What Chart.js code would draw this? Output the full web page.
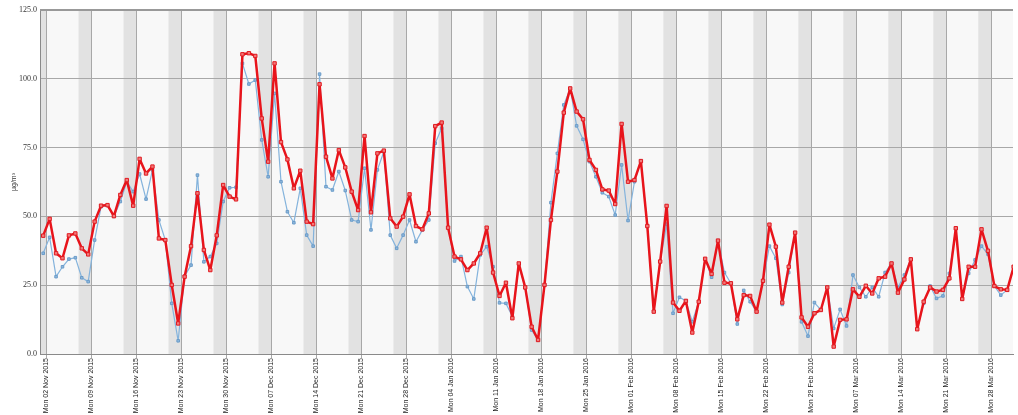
<!DOCTYPE html>
<html><head><meta charset="utf-8">
<script src="https://cdn.jsdelivr.net/npm/chart.js@4.4.0/dist/chart.umd.min.js"></script>
<style>html,body{margin:0;padding:0;background:#fff;overflow:hidden}</style>
</head><body>
<canvas id="c" width="1018" height="415"></canvas>
<script>
// Day offsets are counted from Sun 01 Nov 2015 (day 0); daily values are plotted at mid-day.
const mondayDays = [1,8,15,22,29,36,43,50,57,64,71,78,85,92,99,106,113,120,127,134,141,148];
const mondayLabels = ["Mon 02 Nov 2015","Mon 09 Nov 2015","Mon 16 Nov 2015","Mon 23 Nov 2015","Mon 30 Nov 2015",
  "Mon 07 Dec 2015","Mon 14 Dec 2015","Mon 21 Dec 2015","Mon 28 Dec 2015","Mon 04 Jan 2016","Mon 11 Jan 2016",
  "Mon 18 Jan 2016","Mon 25 Jan 2016","Mon 01 Feb 2016","Mon 08 Feb 2016","Mon 15 Feb 2016","Mon 22 Feb 2016",
  "Mon 29 Feb 2016","Mon 07 Mar 2016","Mon 14 Mar 2016","Mon 21 Mar 2016","Mon 28 Mar 2016"];
const yTicks = [0, 25, 50, 75, 100, 125];
const unitLabel = "µg/m³";

const redSeries = [43.0,49.1,36.6,34.8,43.1,43.8,38.4,36.2,48.1,53.9,54.1,50.1,57.8,63.2,53.9,70.9,65.6,68.1,42.0,41.4,
  25.1,11.1,28.1,39.2,58.4,37.8,30.5,43.1,61.4,57.2,56.2,108.9,109.3,108.3,85.6,69.9,105.6,77.0,70.7,60.2,
  66.6,48.1,47.2,98.0,71.7,63.8,74.1,67.8,59.0,52.3,79.2,51.5,72.9,73.9,49.3,46.3,49.9,58.0,46.5,45.3,
  51.1,82.8,84.1,45.9,35.4,34.4,30.5,32.9,36.6,45.9,29.6,21.1,25.9,13.0,32.9,24.2,9.9,5.1,25.1,48.7,
  66.3,87.7,96.5,88.1,85.3,70.5,66.9,59.8,59.4,54.5,83.6,62.6,63.2,70.1,46.5,15.4,33.6,53.8,18.7,15.7,
  19.3,7.8,19.0,34.6,29.1,41.2,25.9,25.7,12.6,21.4,21.1,15.4,26.6,47.0,39.0,18.7,31.7,44.1,13.3,9.9,
  14.8,16.0,24.2,2.7,12.4,12.6,23.5,20.8,24.8,22.0,27.5,28.1,32.9,22.3,27.1,34.4,9.0,19.0,24.2,22.7,
  23.3,27.5,45.7,20.0,31.7,31.7,45.3,37.5,24.7,23.5,23.3,31.7];
const blueSeries = [36.6,42.4,28.1,31.7,34.5,35.0,27.7,26.3,41.4,53.5,54.0,50.0,55.4,62.6,59.0,65.4,56.3,66.9,48.7,41.4,
  18.4,4.8,28.3,32.3,65.0,33.5,35.4,40.2,55.4,60.4,60.6,105.6,98.1,99.6,77.8,64.4,94.7,62.6,51.7,47.7,
  60.2,43.2,39.2,101.7,60.8,59.6,66.3,59.4,48.7,48.1,67.5,45.1,66.9,73.5,43.2,38.4,43.2,48.7,40.8,45.1,
  48.7,76.6,82.0,45.9,33.8,35.4,24.5,20.0,36.0,39.0,31.7,18.6,18.4,13.6,32.3,24.0,8.7,5.1,25.1,55.0,
  72.9,90.5,96.5,82.9,78.0,69.9,64.4,58.6,57.2,50.5,68.7,48.5,62.6,70.1,46.5,15.4,33.6,47.2,14.8,20.6,
  19.3,11.7,19.0,34.6,27.9,41.2,29.6,25.7,10.9,23.1,19.0,15.4,26.6,39.2,34.8,18.0,29.6,44.1,11.7,6.5,
  18.7,16.0,24.2,9.3,16.2,10.2,28.7,24.2,20.8,24.2,20.8,29.6,32.9,24.2,28.7,34.4,9.0,18.4,24.7,20.2,
  21.1,29.3,45.7,20.0,29.3,34.2,39.2,36.3,24.7,21.4,23.3,31.7];

const toPoints = arr => arr.map((v, i) => ({x: i + 0.5, y: v}));

const bandPlugin = {
  id: 'bands',
  beforeDraw(chart) {
    const {ctx, chartArea: a, scales: {x}} = chart;
    ctx.save();
    ctx.fillStyle = '#f8f8f8';
    ctx.fillRect(a.left, a.top, a.right - a.left, a.bottom - a.top);
    ctx.fillStyle = '#e2e2e2';
    // weekend (Sat+Sun) bands end at each Monday
    [0, ...mondayDays, mondayDays[mondayDays.length-1] + 7].forEach(m => {
      const x0 = Math.max(x.getPixelForValue(m - 2), a.left);
      const x1 = Math.min(x.getPixelForValue(m), a.right);
      if (x1 > x0) ctx.fillRect(x0, a.top, x1 - x0, a.bottom - a.top);
    });
    ctx.restore();
  },
  afterDraw(chart) {
    const {ctx, chartArea: a} = chart;
    ctx.save();
    ctx.strokeStyle = '#999';
    ctx.lineWidth = 2;
    ctx.beginPath();
    ctx.moveTo(a.left, a.top); ctx.lineTo(a.right, a.top);
    ctx.stroke();
    ctx.restore();
  }
};

new Chart(document.getElementById('c'), {
  type: 'line',
  data: {
    datasets: [
      {
        label: 'red', data: toPoints(redSeries),
        borderColor: '#e8141b', borderWidth: 2.5, borderJoinStyle: 'round', borderCapStyle: 'round',
        pointStyle: 'rect', pointRadius: 2.4,
        pointBackgroundColor: '#f27a7a', pointBorderColor: '#e01a20', pointBorderWidth: 1,
        tension: 0
      },
      {
        label: 'blue', data: toPoints(blueSeries),
        borderColor: '#84b3dc', borderWidth: 1.2, borderJoinStyle: 'round',
        pointStyle: 'rect', pointRadius: 1.8,
        pointBackgroundColor: '#8fb8dc', pointBorderColor: '#6b9cc9', pointBorderWidth: 1,
        tension: 0
      }
    ]
  },
  options: {
    responsive: false,
    animation: false,
    events: [],
    layout: { padding: { top: 10, right: 0, left: 0, bottom: 0 } },
    plugins: { legend: { display: false }, tooltip: { enabled: false } },
    scales: {
      x: {
        type: 'linear', min: 0, max: 151.4,
        afterBuildTicks: s => { s.ticks = mondayDays.map(v => ({value: v})); },
        afterFit: s => { s.height = 61; },
        ticks: {
          autoSkip: false, maxRotation: 90, minRotation: 90, padding: 0,
          color: '#222', font: { family: 'Liberation Sans', size: 7 },
          callback: (v, i) => mondayLabels[i]
        },
        grid: { color: '#a8a8a8', lineWidth: 1, tickLength: 4 },
        border: { color: '#8a8a8a', width: 1 }
      },
      y: {
        min: 0, max: 125,
        afterBuildTicks: s => { s.ticks = yTicks.map(v => ({value: v})); },
        afterFit: s => { s.width = 40; },
        ticks: {
          padding: 3, color: '#333',
          font: { family: 'Liberation Serif', size: 8 },
          callback: v => Number(v).toFixed(1)
        },
        grid: { color: '#a8a8a8', lineWidth: 1, drawTicks: false },
        border: { color: '#8a8a8a', width: 1 },
        title: {
          display: true, text: unitLabel, color: '#333',
          font: { family: 'Liberation Sans', size: 7 },
          padding: { top: 10, bottom: 0 }
        }
      }
    }
  },
  plugins: [bandPlugin]
});
</script>
</body></html>
